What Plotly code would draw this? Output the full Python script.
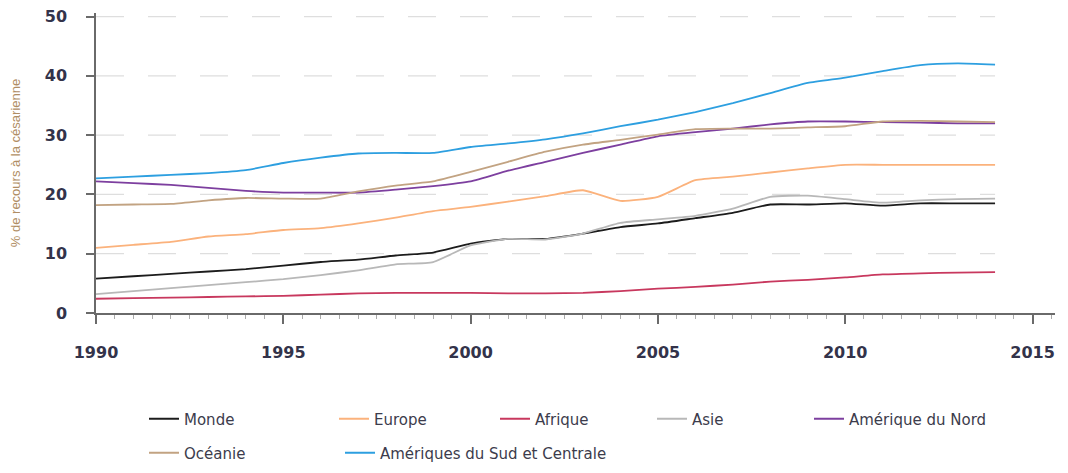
import plotly.graph_objects as go

years = list(range(1990, 2015))

monde = [5.8, 6.2, 6.6, 7.0, 7.4, 8.0, 8.6, 9.0, 9.7, 10.2, 11.7, 12.5, 12.5, 13.4, 14.5,
         15.1, 16.0, 16.9, 18.3, 18.3, 18.5, 18.1, 18.5, 18.5, 18.5]
europe = [11.0, 11.5, 12.0, 12.9, 13.3, 14.0, 14.3, 15.1, 16.1, 17.2, 17.9, 18.8, 19.7, 20.7, 18.9,
          19.6, 22.4, 23.0, 23.7, 24.4, 25.0, 25.0, 25.0, 25.0, 25.0]
afrique = [2.4, 2.5, 2.6, 2.7, 2.8, 2.9, 3.1, 3.3, 3.4, 3.4, 3.4, 3.3, 3.3, 3.4, 3.7,
           4.1, 4.4, 4.8, 5.3, 5.6, 6.0, 6.5, 6.7, 6.8, 6.9]
asie = [3.2, 3.7, 4.2, 4.7, 5.2, 5.7, 6.4, 7.2, 8.2, 8.6, 11.4, 12.5, 12.4, 13.4, 15.2,
        15.8, 16.4, 17.6, 19.6, 19.8, 19.2, 18.6, 19.0, 19.2, 19.3]
am_nord = [22.2, 21.9, 21.6, 21.1, 20.6, 20.3, 20.3, 20.3, 20.8, 21.4, 22.2, 24.0, 25.5, 27.0, 28.4,
           29.8, 30.5, 31.1, 31.8, 32.3, 32.3, 32.2, 32.1, 32.0, 32.0]
oceanie = [18.2, 18.3, 18.4, 19.0, 19.4, 19.3, 19.3, 20.5, 21.5, 22.2, 23.8, 25.5, 27.2, 28.4, 29.2,
           30.1, 31.0, 31.1, 31.1, 31.3, 31.5, 32.3, 32.4, 32.3, 32.2]
am_sud = [22.7, 23.0, 23.3, 23.6, 24.1, 25.3, 26.2, 26.9, 27.0, 27.0, 28.0, 28.6, 29.3, 30.3, 31.5,
          32.6, 33.9, 35.4, 37.1, 38.8, 39.7, 40.8, 41.8, 42.1, 41.9]

series = [
    ("Monde", monde, "#1c1c1c", "legend", 145),
    ("Europe", europe, "#fbb27c", "legend", 116),
    ("Afrique", afrique, "#c8385e", "legend", 112),
    ("Asie", asie, "#b8b8b8", "legend", 112),
    ("Amérique du Nord", am_nord, "#7d3f9f", "legend", None),
    ("Océanie", oceanie, "#c2a382", "legend2", 151),
    ("Amériques du Sud et Centrale", am_sud, "#2d9fe0", "legend2", None),
]

y_ticks = [0, 10, 20, 30, 40, 50]
x_ticks = [1990, 1995, 2000, 2005, 2010, 2015]
grid_vals = [10, 20, 30, 40, 50]

fig = go.Figure()
for name, vals, color, leg, lw in series:
    kw = {}
    if lw:
        kw["legendwidth"] = lw
    fig.add_trace(go.Scatter(
        x=years, y=vals, name=name, mode="lines",
        line=dict(color=color, width=1.8, shape="spline", smoothing=0.5),
        legend=leg, **kw))

for g in grid_vals:
    fig.add_shape(type="line", xref="x", yref="y", x0=years[0], x1=years[-1], y0=g, y1=g,
                  line=dict(color="#dedede", width=1.2, dash="28px,24px"), layer="below")

tick_font = dict(family="DejaVu Sans", size=16, color="#33334a", weight="bold")
# page body has an 8px margin, so the figure is 16px smaller than the window
W, H = 1052, 457
PL, PW, PT, PH = 88, 959, 5, 300

fig.update_layout(
    width=W, height=H,
    margin=dict(l=PL, r=W - PL - PW, t=PT, b=H - PT - PH, autoexpand=False),
    plot_bgcolor="white", paper_bgcolor="white",
    showlegend=True,
    xaxis=dict(
        range=[1990, 2015.6], tickvals=x_ticks, showgrid=False, zeroline=False, automargin=False,
        showline=True, linecolor="#6a6a6a", linewidth=1.5,
        ticks="outside", ticklen=9, tickwidth=1.5, tickcolor="#6a6a6a",
        minor=dict(dtick=0.5, ticks="outside", ticklen=4, tickcolor="#aaaaaa", tickwidth=1),
        tickfont=tick_font, ticklabelstandoff=15, ticklabeloverflow="allow",
    ),
    yaxis=dict(
        range=[0, 50.6], tickvals=y_ticks, showgrid=False, zeroline=False, automargin=False,
        showline=True, linecolor="#6a6a6a", linewidth=1.5,
        ticks="outside", ticklen=8, tickwidth=1.5, tickcolor="#6a6a6a",
        tickfont=tick_font, ticklabelstandoff=16, ticklabeloverflow="allow",
        title=dict(text="% de recours à la césarienne",
                   font=dict(family="Liberation Sans Narrow, Liberation Sans", size=13, color="#b08d63"),
                   standoff=22),
    ),
    legend=dict(orientation="h", x=(136 - PL) / PW, xanchor="left", y=(PT + PH - 411) / PH, yanchor="middle",
                font=dict(family="DejaVu Sans", size=15, color="#3c3c4c"), bgcolor="rgba(0,0,0,0)"),
    legend2=dict(orientation="h", x=(136 - PL) / PW, xanchor="left", y=(PT + PH - 445) / PH, yanchor="middle",
                 font=dict(family="DejaVu Sans", size=15, color="#3c3c4c"), bgcolor="rgba(0,0,0,0)"),
)

fig.write_html("out.html")
